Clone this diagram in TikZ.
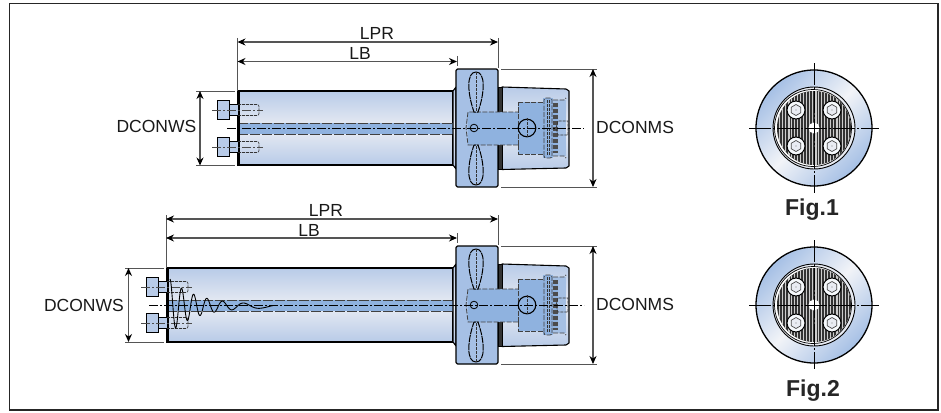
\documentclass[tikz,border=0pt]{standalone}
\usepackage{fontspec}
\setmainfont{Liberation Sans}
\usetikzlibrary{arrows.meta,calc}
\definecolor{edgeblue}{HTML}{B8CBE8}
\definecolor{paleblue}{HTML}{E9ECF3}
\definecolor{flatblue}{HTML}{A6C0E5}
\definecolor{coreblue}{HTML}{8FB2DF}
\definecolor{dimgrey}{HTML}{555555}
\tikzset{
 outline/.style={draw=black,line width=1.1pt,line join=round},
 barfill/.style={top color=edgeblue,bottom color=edgeblue,middle color=paleblue},
 hidden/.style={draw=black!75,line width=0.8pt,dash pattern=on 5pt off 1.5pt},
 hiddenfine/.style={draw=black!80,line width=0.6pt,dash pattern=on 3pt off 1pt},
 axis/.style={draw=black,line width=0.6pt,dash pattern=on 9pt off 2pt on 2pt off 2pt},
 extline/.style={draw=dimgrey,line width=0.9pt},
 dimline/.style={draw=dimgrey,line width=1.1pt,{Stealth[length=8pt,width=7pt,black]}-{Stealth[length=8pt,width=7pt,black]}},
 dimlabel/.style={font=\fontsize{17.5}{17.5}\selectfont,inner sep=0pt,text=black!90},
 figlabel/.style={font=\fontsize{23}{23}\selectfont\bfseries,inner sep=0pt,text=black!85},
 screwbody/.style={draw=black,line width=1pt,fill=edgeblue},
}
% fixed right-hand part of the holder; drawn with the centre line at y = 128
\newcommand{\holderhead}{%
  % neck and flange
  \path[outline,barfill] (453,91)--(456,87)--(456,169)--(453,165)--cycle;
  \path[outline,fill=flatblue,rounded corners=1.5pt] (456,69) rectangle (498,187);
  % taper
  \path[outline,barfill] (502,87)--(566,89)--(569,91)--(569,166)--(566,168)--(502,169.5)--cycle;
  \path[draw=black,fill=black!80,line width=.8pt] (498,87) rectangle (502,169.5);
  % internal parts
  \path[fill=coreblue] (468,112) rectangle (518,145);
  \path[fill=coreblue] (518,102) rectangle (543,154);
  \path[fill=coreblue] (543,98) rectangle (553,158);
  \path[fill=coreblue!75!paleblue] (553,100) -- (566,100) -- (566,156) -- (553,156) -- cycle;
  \draw[hidden] (518,145)--(468,145)--(466,128)--(468,112)--(518,112);
  \draw[hidden] (518,145)--(518,112);
  \draw[hidden] (518,102)--(543,102);
  \draw[hidden] (518,154)--(543,154);
  \draw[hidden] (518,112)--(518,102);
  \draw[hidden] (518,145)--(518,154);
  \draw[hidden,rounded corners=2pt] (544,158)--(544,98)--(552,98)--(552,158)--cycle;
  \foreach \xx in {547,549.5}{\draw[hiddenfine] (\xx,100)--(\xx,156);}
  \path[fill=black!70] (553,103) rectangle (558,153);
  \foreach \yy in {107,113,119,125,131,137,143,149}{\path[fill=coreblue] (553,\yy) rectangle (558,\yy+1.5);}
  \draw[hidden] (553,100)--(564,100)--(566,98);
  \draw[hidden] (553,156)--(564,156)--(566,158);
  \draw[hiddenfine] (556,128)--(558,121)--(568,121)--(568,135)--(558,135)--cycle;
  % lobes in the flange
  \foreach \yy/\tip/\base/\ca/\cb in {0/72/112/72/92,1/185/145/185/165}{
    \path[draw=black,line width=1pt,fill=flatblue,dash pattern=on 7pt off .8pt]
      (476,\tip) .. controls (466.5,\ca) and (467,\cb) .. (474,\base)
      -- (478,\base) .. controls (485,\cb) and (485.5,\ca) .. (476,\tip) -- cycle;
    \draw[hiddenfine] (476,\tip)--(476,\base);
  }
  % bores
  \draw[draw=black,line width=1.1pt,fill=coreblue] (527,128) circle (8.8);
  \draw[hiddenfine] (527,118)--(527,138);
  \draw[draw=black,line width=.8pt,fill=coreblue] (474,128) circle (3.8);
}
% left-hand bar from x = #1
\newcommand{\holderbar}[1]{%
  \path[outline,barfill] (#1,91) rectangle (453,165);
  \path[fill=coreblue] (#1,123) rectangle (466,134);
  \draw[hidden,line width=1pt,dash pattern=on 10pt off 2pt] (#1,123)--(466,123);
  \draw[hidden,line width=1pt,dash pattern=on 10pt off 2pt] (#1,134)--(466,134);
}
% one screw at left edge #1, centre line at y = #2
\newcommand{\holderscrew}[2]{%
  \path[screwbody] (#1-21,#2-9.5) rectangle (#1-9,#2+9.5);
  \path[screwbody] (#1-9,#2-5.5) rectangle (#1,#2+5.5);
  \draw[hiddenfine,rounded corners=2pt] (#1,#2-5.5)--(#1+21,#2-5.5)--(#1+21,#2+5.5)--(#1,#2+5.5);
  \draw[axis,line width=.5pt,draw=black!70] (#1-26,#2)--(#1+25,#2);
}
% end view centred at (#1,#2)
\newcommand{\faceview}[2]{%
  \begin{scope}[shift={(#1,#2)}]
    \path[draw=black,line width=1.3pt,top color=flatblue,bottom color=flatblue,middle color=paleblue!60!white,shading angle=45] (0,0) circle (58);
    \draw[black,line width=.9pt,fill=paleblue] (0,0) circle (41);
    \draw[black,line width=.7pt,fill=white] (-1,0) circle (38.5);
    \begin{scope}
      \clip (0,0) circle (37);
      \fill[black!80] (-38,-38) rectangle (38,38);
      \foreach \xx/\ww in {-35/1.2,-32/1.4,-29/1.2,-26/1.5,-23/1.2,-20/1.4,-17/1.2,-14/1.4,-11/1.2,-8/1.4,-5/1.2,-2.5/1.6,1/1.8,4/1.4,7/1.2,10/1.4,13/1.2,16/1.4,19/1.2,22/1.5,25/1.2,28/1.4,31/1.2,34/1.4}{
        \fill[white!80!black] (\xx,-38) rectangle (\xx+\ww,38);
      }
    \end{scope}
    \foreach \sx/\sy in {-18/-18,18/-18,-18/18,18/18}{
      \draw[black,line width=1pt,fill=white!88!edgeblue] (\sx,\sy) circle (9);
      \draw[black!70,line width=.7pt,fill=paleblue]
        (\sx,\sy) ++(30:5.5) -- ++(150:5.5) -- ++(210:5.5) -- ++(270:5.5) -- ++(330:5.5) -- ++(30:5.5) -- cycle;
      \fill[black!50] (\sx,\sy) circle (.7);
    }
    \fill[white] (0,0) circle (5.5);
    \draw[black!70,line width=.8pt] (-5.5,0)--(5.5,0) (0,-5.5)--(0,5.5);
  \end{scope}
}
\begin{document}
\begin{tikzpicture}[x=1pt,y=-1pt]
\useasboundingbox (0,0) rectangle (941,412);
\fill[white] (0,0) rectangle (941,412);
\draw[black!85,line width=1.5pt] (9.5,3.5) rectangle (938,410);

% ---------- upper holder
\holderbar{238}
\holderhead
\draw[black,line width=3pt] (238,90.5)--(238,165.5);
\holderscrew{238}{110}
\holderscrew{238}{147}
\coordinate (axA) at (227,128); \coordinate (axB) at (584,128);
\draw[axis] (axA)--(axB);

% ---------- lower holder
\begin{scope}[shift={(0,177)}]
\holderbar{167}
\holderhead
\draw[black,line width=3pt] (167,90.5)--(167,165.5);
\holderscrew{167}{110}
\holderscrew{167}{146}
\coordinate (axC) at (149,128); \coordinate (axD) at (584,128);
\draw[axis] (axC)--(axD);
\draw[black,line width=.9pt,smooth,samples=300,domain=0:103,variable=\t]
  plot ({170+\t},{129-(25.5*exp(-\t/26)+1.5)*cos(360/(11.5+0.0006*\t*\t)*\t)});
\end{scope}

% ---------- dimensions, upper
\coordinate (eL1) at (237.5,38); \coordinate (eL2) at (237.5,91);
\coordinate (eR1) at (498,38);   \coordinate (eR2) at (498,68);
\coordinate (eM1) at (457,56);   \coordinate (eM2) at (457,66);
\draw[extline] (eL1)--(eL2);
\draw[extline] (eR1)--(eR2);
\draw[extline] (eM1)--(eM2);
\coordinate (lprA) at (237.5,42); \coordinate (lprB) at (498,42);
\coordinate (lbA) at (237.5,61.5); \coordinate (lbB) at (457,61.5);
\draw[dimline] (lprA)--(lprB);
\draw[dimline] (lbA)--(lbB);
\node[dimlabel] (lprT) at (377,33) {LPR};
\node[dimlabel] (lbT) at (360,53) {LB};
\coordinate (wA) at (196,91); \coordinate (wB) at (235,91);
\coordinate (wC) at (196,165.5); \coordinate (wD) at (235,165.5);
\draw[extline] (wA)--(wB);
\draw[extline] (wC)--(wD);
\coordinate (wU) at (200,91); \coordinate (wL) at (200,165.5);
\draw[dimline] (wU)--(wL);
\node[dimlabel,anchor=east] (wsT) at (196.5,126) {DCONWS};
\coordinate (mA) at (501,69); \coordinate (mB) at (597,69);
\coordinate (mC) at (501,187); \coordinate (mD) at (597,187);
\draw[extline] (mA)--(mB);
\draw[extline] (mC)--(mD);
\coordinate (mU) at (593,69); \coordinate (mL) at (593,187);
\draw[dimline] (mU)--(mL);
\node[dimlabel,anchor=west] (msT) at (596,127) {DCONMS};

% ---------- dimensions, lower
\coordinate (fL1) at (166,215); \coordinate (fL2) at (166,268);
\coordinate (fR1) at (498,215);   \coordinate (fR2) at (498,245);
\coordinate (fM1) at (457,233);   \coordinate (fM2) at (457,243);
\draw[extline] (fL1)--(fL2);
\draw[extline] (fR1)--(fR2);
\draw[extline] (fM1)--(fM2);
\coordinate (lpsA) at (166,219); \coordinate (lpsB) at (498,219);
\coordinate (lbsA) at (166,238); \coordinate (lbsB) at (457,238);
\draw[dimline] (lpsA)--(lpsB);
\draw[dimline] (lbsA)--(lbsB);
\node[dimlabel] (lpsT) at (326,210) {LPR};
\node[dimlabel] (lbsT) at (309,230) {LB};
\coordinate (xA) at (125,268); \coordinate (xB) at (164,268);
\coordinate (xC) at (125,342); \coordinate (xD) at (164,342);
\draw[extline] (xA)--(xB);
\draw[extline] (xC)--(xD);
\coordinate (xU) at (128.5,268); \coordinate (xL) at (128.5,342);
\draw[dimline] (xU)--(xL);
\node[dimlabel,anchor=east] (wssT) at (124,305) {DCONWS};
\coordinate (nA) at (501,246); \coordinate (nB) at (597,246);
\coordinate (nC) at (501,364); \coordinate (nD) at (597,364);
\draw[extline] (nA)--(nB);
\draw[extline] (nC)--(nD);
\coordinate (nU) at (593,246); \coordinate (nL) at (593,364);
\draw[dimline] (nU)--(nL);
\node[dimlabel,anchor=west] (mssT) at (596,304) {DCONMS};

% ---------- end views
\faceview{814}{128}
\faceview{814}{305}
\foreach \cy/\ct/\cb in {128/63/193,305/240/369}{
  \draw[black,line width=.7pt,dash pattern=on 22pt off 2pt on 2pt off 2pt] (749,\cy)--(879,\cy);
  \draw[black,line width=.7pt,dash pattern=on 22pt off 2pt on 2pt off 2pt] (814,\ct)--(814,\cb);
}
\node[figlabel] (figA) at (812,210) {Fig.1};
\node[figlabel] (figB) at (813,391) {Fig.2};
\end{tikzpicture}
\end{document}
